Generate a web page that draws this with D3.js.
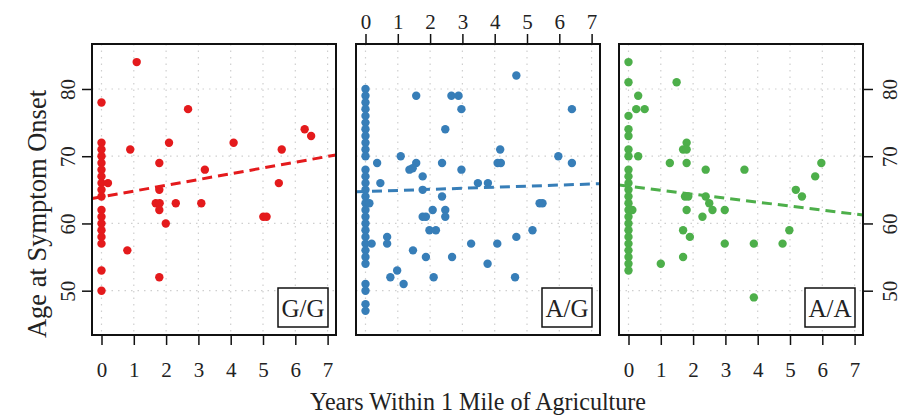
<!DOCTYPE html>
<html>
<head>
<meta charset="utf-8">
<script src="https://cdn.jsdelivr.net/npm/d3@7"></script>
<style>
  html, body { margin: 0; padding: 0; background: #fff; }
  svg { display: block; }
  text { font-family: "Liberation Serif", "DejaVu Serif", serif; fill: #222; }
</style>
</head>
<body>
<svg id="chart" width="904" height="415"></svg>
<script>
// ---- Data ----
const genotypes = ["G/G", "A/G", "A/A"];
const colors = ["#E41A1C", "#377EB8", "#4DAF4A"];
const xTicks = [0, 1, 2, 3, 4, 5, 6, 7];
const yTicks = [50, 60, 70, 80];
const xTitle = "Years Within 1 Mile of Agriculture";
const yTitle = "Age at Symptom Onset";

// G/G : [years, age]
const ggYears = [0,0,0,0,0,0,0,0,0,0,0,0,0,0,0,0,0,0, 0.2, 1.09,2.68,0.89,2.09,4.09,1.79,3.2,5.58,6.29,6.49,1.79,1.68,1.8,1.79,2.3,3.09,1.99,5.01,5.11,5.49,0.8,1.79];
const ggAge   = [78,72,71,70,69,68,66,65,64,62,61,60,59,58,57,53,50,67, 66, 84,77,71,72,72,69,68,71,74,73,65,63,63,62,63,63,60,61,61,66,56,52];

// A/G
const agYears = [0,0,0,0,0,0,0,0,0,0,0, 0,0,0,0,0,0,0,0,0,0,0,0,0,0,0, 0,0,0,0, 0.12,0.19,
  4.67,1.57,2.66,2.88,2.97,6.39,2.47,4.17,1.09,5.97,0.36,1.57,2.37,4.09,4.19,6.39,1.36,1.46,2.97,1.77,0.46,1.77,3.48,3.79,2.37,5.39,5.48,2.08,2.47,2.47,1.77,1.87,1.98,2.18,5.17,0.67,0.67,3.27,4.08,4.67,1.47,1.87,2.68,3.78,0.98,0.77,2.11,4.63,1.18];
const agAge   = [80,79,78,77,76,75,74,73,72,71,70, 68,67,66,65,64,63,62,61,60,59,58,57,56,55,54, 51,50,48,47, 63,57,
  82,79,79,79,77,77,74,71,70,70,69,69,69,69,69,69,68,68.2,68,67,66,65,66,66,64,63,63,62,62,61,61,61,59,59,59,58,57,57,57,58,56,55,55,54,53,52,52,52,51];

// A/A
const aaYears = [0,0,0,0,0,0,0, 0,0,0,0,0,0,0,0,0,0,0,0,0,0,0,0,
  0.3,0.24,0.5,0.3,0.12,1.49,1.28,1.8,1.69,1.8,1.8,2.39,3.59,1.75,1.85,1.8,2.39,2.5,2.6,2.98,2.29,1.69,1.9,1.69,1.0,2.98,3.88,4.77,4.98,5.18,5.37,5.78,5.97,3.88];
const aaAge   = [84,81,76,74,73,71,70, 68,67,66,65,64,63,62,61,60,59,58,57,56,55,54,53,
  79,77,77,70,62,81,69,72,71,71,69,68,68,64,64,62,64,63,62,62,61,59,58,55,54,57,57,57,59,65,64,67,69,49];

const seriesYears = [ggYears, agYears, aaYears];
const seriesAge = [ggAge, agAge, aaAge];
// regression fits: [intercept, slope]
const fitIntercept = [63.95, 64.75, 65.53];
const fitSlope = [0.86, 0.16, -0.59];

// ---- Layout ----
const svg = d3.select("#chart");
const panelLeft = [92, 356, 619];
const panelW = 244, panelTop = 44, panelBottom = 335;
const xDomain = [-0.294, 7.26];
const yScale = d3.scaleLinear().domain([43.41, 86.69]).range([panelBottom, panelTop]);

genotypes.forEach((g, i) => {
  const x0 = panelLeft[i];
  const xScale = d3.scaleLinear().domain(xDomain).range([x0, x0 + panelW]);
  const p = svg.append("g");

  // grid
  p.selectAll(".gx").data(xTicks).join("line")
    .attr("x1", d => xScale(d)).attr("x2", d => xScale(d))
    .attr("y1", panelTop).attr("y2", panelBottom)
    .attr("stroke", "#cfcfcf").attr("stroke-width", 1.2).attr("stroke-dasharray", "1.5,5");
  p.selectAll(".gy").data(yTicks).join("line")
    .attr("x1", x0).attr("x2", x0 + panelW)
    .attr("y1", d => yScale(d)).attr("y2", d => yScale(d))
    .attr("stroke", "#cfcfcf").attr("stroke-width", 1.2).attr("stroke-dasharray", "1.5,5");

  // points
  const pts = seriesYears[i].map((v, k) => [v, seriesAge[i][k]]);
  p.selectAll("circle").data(pts).join("circle")
    .attr("cx", d => xScale(d[0])).attr("cy", d => yScale(d[1]))
    .attr("r", 4.2).attr("fill", colors[i]);

  // regression line
  p.append("line")
    .attr("x1", xScale(xDomain[0])).attr("x2", xScale(xDomain[1]))
    .attr("y1", yScale(fitIntercept[i] + fitSlope[i] * xDomain[0]))
    .attr("y2", yScale(fitIntercept[i] + fitSlope[i] * xDomain[1]))
    .attr("stroke", colors[i]).attr("stroke-width", 3).attr("stroke-dasharray", "10,6");

  // frame
  p.append("rect").attr("x", x0).attr("y", panelTop).attr("width", panelW).attr("height", panelBottom - panelTop)
    .attr("fill", "none").attr("stroke", "#111").attr("stroke-width", 2);

  // genotype label box
  const bw = 50, bh = 39;
  const bx = x0 + panelW - 8 - bw, by = panelBottom - 8 - bh;
  p.append("rect").attr("x", bx).attr("y", by).attr("width", bw).attr("height", bh)
    .attr("fill", "#fff").attr("stroke", "#111").attr("stroke-width", 1.5);
  p.append("text").attr("x", bx + bw / 2).attr("y", by + bh / 2 + 9)
    .attr("text-anchor", "middle").attr("font-size", 25)
    .attr("textLength", 43).attr("lengthAdjust", "spacingAndGlyphs")
    .text(g);

  // x axes
  if (i === 1) {
    const ax = svg.append("g").attr("transform", `translate(0,${panelTop})`)
      .call(d3.axisTop(xScale).tickValues(xTicks).tickSize(10).tickFormat(d3.format("d")));
    ax.select(".domain").remove();
    ax.selectAll("line").attr("stroke", "#111").attr("stroke-width", 1.5);
    ax.selectAll("text").attr("y", -15).attr("dy", 0).attr("font-size", 21)
      .attr("font-family", "Liberation Serif").attr("fill", "#222");
  } else {
    const ax = svg.append("g").attr("transform", `translate(0,${panelBottom})`)
      .call(d3.axisBottom(xScale).tickValues(xTicks).tickSize(10).tickFormat(d3.format("d")));
    ax.select(".domain").remove();
    ax.selectAll("line").attr("stroke", "#111").attr("stroke-width", 1.5);
    ax.selectAll("text").attr("y", 41.5).attr("dy", 0).attr("font-size", 21)
      .attr("font-family", "Liberation Serif").attr("fill", "#222");
  }
});

// y axes (left on first panel, right on last)
const yl = svg.append("g").attr("transform", `translate(${panelLeft[0]},0)`)
  .call(d3.axisLeft(yScale).tickValues(yTicks).tickSize(10));
yl.select(".domain").remove();
yl.selectAll("line").attr("stroke", "#111").attr("stroke-width", 1.5);
yl.selectAll("text").attr("x", 0).attr("y", 0).attr("dy", 0)
  .attr("transform", "translate(-17,0) rotate(-90)").attr("text-anchor", "middle")
  .attr("font-size", 21).attr("font-family", "Liberation Serif").attr("fill", "#222");

const yr = svg.append("g").attr("transform", `translate(${panelLeft[2] + panelW},0)`)
  .call(d3.axisRight(yScale).tickValues(yTicks).tickSize(10));
yr.select(".domain").remove();
yr.selectAll("line").attr("stroke", "#111").attr("stroke-width", 1.5);
yr.selectAll("text").attr("x", 0).attr("y", 0).attr("dy", 0)
  .attr("transform", "translate(34,0) rotate(-90)").attr("text-anchor", "middle")
  .attr("font-size", 21).attr("font-family", "Liberation Serif").attr("fill", "#222");

// titles
svg.append("text").attr("x", 478).attr("y", 410).attr("text-anchor", "middle")
  .attr("font-size", 26).attr("textLength", 336).attr("lengthAdjust", "spacingAndGlyphs")
  .text(xTitle);
svg.append("text").attr("transform", "translate(46,214) rotate(-90)").attr("text-anchor", "middle")
  .attr("font-size", 26.5).text(yTitle);
</script>
</body>
</html>
